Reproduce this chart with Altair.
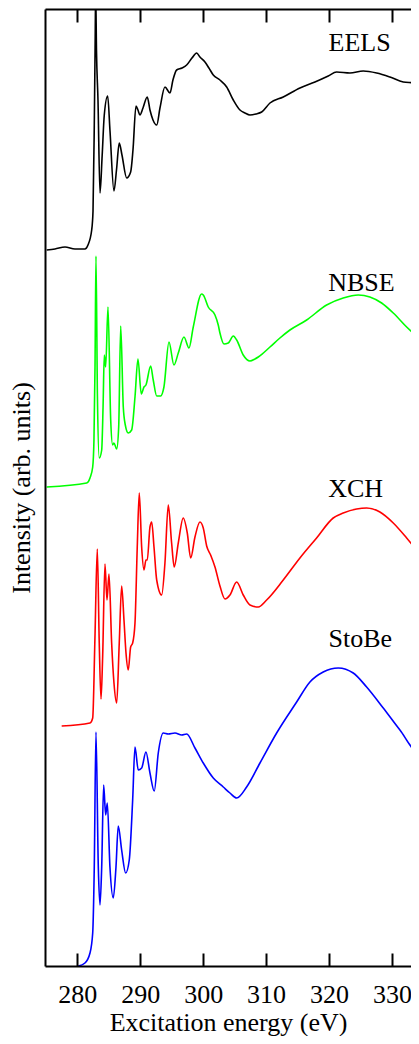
import altair as alt
import pandas as pd

# ---------------- data ----------------
series_names = ["EELS", "NBSE", "XCH", "StoBe"]
series_colors = ["#000000", "#00ff00", "#ff0000", "#0000ff"]

eels_e = [275.14, 276.46, 278.05, 279.63, 281.22, 281.70, 282.29, 282.50, 282.70, 282.85,
          282.92, 283.05, 283.29, 283.61, 283.95, 284.29, 284.83, 285.19, 285.83, 286.23,
          286.67, 287.10, 287.85, 288.48, 288.85, 289.33, 289.64, 289.96, 290.44, 291.12,
          291.55, 292.03, 292.62, 293.14, 293.93, 294.73, 295.20, 295.79, 296.63, 297.38,
          298.22, 298.97, 299.49, 300.29, 300.92, 301.61, 302.67, 303.74, 304.79, 305.85,
          306.64, 307.44, 308.39, 309.30, 310.62, 312.73, 315.38, 317.77, 319.88, 321.21,
          323.33, 325.44, 327.57, 329.68, 331.80, 333.65, 334.45]
eels_i = [7.16, 7.17, 7.19, 7.17, 7.17, 7.21, 7.36, 7.55, 8.40, 9.30,
          9.75, 9.16, 8.66, 7.73, 8.10, 8.51, 8.70, 8.36, 7.75, 7.96,
          8.23, 8.11, 7.88, 7.94, 8.16, 8.60, 8.56, 8.51, 8.58, 8.69,
          8.56, 8.46, 8.41, 8.58, 8.79, 8.73, 8.86, 8.96, 8.98, 9.01,
          9.08, 9.13, 9.09, 9.04, 8.98, 8.91, 8.86, 8.79, 8.66, 8.56,
          8.53, 8.51, 8.52, 8.54, 8.63, 8.69, 8.78, 8.84, 8.90, 8.94,
          8.93, 8.95, 8.93, 8.89, 8.84, 8.83, 8.81]

nbse_e = [275.14, 281.49, 282.02, 282.45, 282.65, 282.82, 282.97, 283.20, 283.49, 283.88,
          284.10, 284.29, 284.51, 284.88, 285.31, 285.62, 285.83, 286.26, 286.58, 286.90,
          287.31, 287.63, 288.10, 288.64, 289.17, 289.64, 290.17, 290.60, 290.91, 291.66,
          292.07, 292.62, 293.25, 293.77, 294.57, 295.36, 296.05, 296.95, 297.75, 298.43,
          299.76, 300.02, 300.81, 301.88, 302.40, 302.67, 303.31, 303.99, 304.79, 305.33,
          306.37, 307.44, 308.23, 308.76, 310.62, 312.20, 313.79, 316.45, 319.62, 322.26,
          324.65, 326.50, 328.36, 330.21, 332.34, 334.18, 334.77]
nbse_i = [4.79, 4.83, 4.88, 4.99, 5.26, 6.00, 7.10, 5.70, 5.08, 5.16,
          5.60, 6.11, 5.99, 6.59, 5.46, 5.21, 5.23, 5.17, 5.39, 6.40,
          5.59, 5.41, 5.33, 5.36, 5.69, 6.07, 5.72, 5.79, 5.81, 6.00,
          5.86, 5.70, 5.70, 5.79, 6.24, 6.01, 6.13, 6.29, 6.18, 6.39,
          6.72, 6.71, 6.59, 6.51, 6.41, 6.33, 6.22, 6.23, 6.30, 6.26,
          6.11, 6.05, 6.07, 6.09, 6.19, 6.28, 6.36, 6.46, 6.61, 6.68,
          6.71, 6.69, 6.63, 6.53, 6.39, 6.28, 6.24]

xch_e = [277.52, 282.02, 282.45, 282.81, 283.18, 283.49, 283.77, 284.03, 284.40, 284.72,
         285.04, 285.46, 285.83, 286.26, 286.67, 287.05, 287.42, 287.74, 288.10, 288.48,
         288.80, 289.17, 289.53, 289.85, 290.23, 290.60, 290.91, 291.12, 291.55, 291.82,
         292.19, 292.62, 293.41, 293.93, 294.46, 294.99, 295.41, 296.05, 296.84, 297.48,
         298.02, 298.70, 299.49, 300.02, 300.56, 301.19, 301.88, 302.67, 303.47, 304.26,
         305.33, 306.37, 307.44, 308.76, 310.09, 312.73, 315.38, 318.03, 320.67, 322.26,
         324.39, 325.98, 328.09, 330.21, 332.34, 334.18, 334.77]
xch_i = [2.40, 2.43, 2.48, 3.29, 4.17, 3.23, 2.67, 3.09, 4.02, 3.66,
         3.92, 3.23, 2.83, 2.63, 3.23, 3.80, 3.46, 3.13, 2.96, 3.19,
         3.23, 3.43, 4.19, 4.73, 4.19, 3.96, 4.06, 4.06, 4.39, 4.44,
         4.19, 3.86, 3.71, 4.03, 4.61, 4.23, 3.99, 4.23, 4.48, 4.33,
         4.08, 4.29, 4.44, 4.38, 4.20, 4.11, 3.99, 3.80, 3.67, 3.71,
         3.84, 3.71, 3.61, 3.59, 3.66, 3.86, 4.08, 4.28, 4.48, 4.53,
         4.57, 4.58, 4.54, 4.43, 4.28, 4.14, 4.10]

stobe_e = [280.16, 281.22, 282.02, 282.45, 282.70, 282.97, 283.34, 283.61, 283.88, 284.19,
           284.51, 284.77, 285.19, 285.72, 286.15, 286.51, 287.05, 287.69, 288.26, 288.80,
           289.17, 289.69, 290.23, 290.91, 291.55, 292.23, 292.87, 293.66, 294.46, 295.52,
           296.59, 297.38, 298.70, 300.02, 301.61, 303.20, 304.26, 305.33, 306.91, 309.03,
           311.68, 314.86, 316.97, 319.08, 321.47, 323.85, 325.98, 328.62, 331.27, 334.18,
           334.77]
stobe_i = [0.00, 0.03, 0.13, 0.33, 0.99, 2.34, 0.99, 0.61, 0.99, 1.81,
           1.51, 1.63, 0.99, 0.68, 0.99, 1.40, 1.16, 0.93, 1.06, 1.66,
           2.19, 1.96, 1.98, 2.14, 1.93, 1.75, 2.13, 2.33, 2.32, 2.33,
           2.31, 2.32, 2.18, 2.03, 1.88, 1.79, 1.73, 1.68, 1.79, 2.03,
           2.33, 2.64, 2.84, 2.94, 2.98, 2.93, 2.79, 2.58, 2.36, 2.14,
           2.14]

label_names = ["EELS", "NBSE", "XCH", "StoBe"]
label_energy = [319.93, 319.88, 319.88, 319.93]
label_intensity = [9.15, 6.75, 4.69, 3.19]

tick_values = [280, 290, 300, 310, 320, 330]

X_MIN, X_MAX = 274.87, 333.03
Y_MIN, Y_MAX = 0.0, 9.57

# ---------------- build tables ----------------
rows = []
for name, es, vs in [("EELS", eels_e, eels_i), ("NBSE", nbse_e, nbse_i),
                     ("XCH", xch_e, xch_i), ("StoBe", stobe_e, stobe_i)]:
    for k, (e, v) in enumerate(zip(es, vs)):
        rows.append({"series": name, "energy": float(e), "intensity": float(v), "idx": k})
df = pd.DataFrame(rows)
labels_df = pd.DataFrame({"name": label_names, "energy": label_energy, "intensity": label_intensity})

W, H = 366, 957
FONT = "Liberation Serif"
FS = 26
INWARD = alt.ExprRef(expr="-13")   # inward tick length

xscale = alt.Scale(domain=[X_MIN, X_MAX], nice=False, zero=False)
yscale = alt.Scale(domain=[Y_MIN, Y_MAX], nice=False, zero=False)

bottom_axis = alt.Axis(orient="bottom", values=tick_values, title="Excitation energy (eV)",
                       ticks=True, tickSize=INWARD, tickWidth=2, tickColor="black",
                       labelPadding=28, domainWidth=2, domainColor="black",
                       labelFontSize=FS, titleFontSize=FS, labelFont=FONT, titleFont=FONT,
                       titleFontWeight="normal", labelColor="black", titleColor="black",
                       titleBaseline="alphabetic", titleY=64, grid=False, format="d",
                       zindex=1)
top_axis = alt.Axis(orient="top", values=tick_values, title=None, labels=False,
                    ticks=True, tickSize=INWARD, tickWidth=2, tickColor="black",
                    domainWidth=2, domainColor="black", grid=False, zindex=1)
yaxis = alt.Axis(title="Intensity (arb. units)", labels=False, ticks=False, tickSize=0,
                 grid=False, domainWidth=2, domainColor="black", titlePadding=11,
                 titleFontSize=FS, titleFont=FONT, titleFontWeight="normal", titleColor="black",
                 zindex=1)

Y = alt.Y("intensity:Q", scale=yscale, axis=yaxis)

lines = alt.Chart(df).mark_line(interpolate="monotone", clip=True, strokeWidth=1.6).encode(
    x=alt.X("energy:Q", scale=xscale, axis=bottom_axis),
    y=Y,
    color=alt.Color("series:N", scale=alt.Scale(domain=series_names, range=series_colors), legend=None),
    order="idx:Q",
)

texts = alt.Chart(labels_df).mark_text(align="left", baseline="alphabetic", font=FONT,
                                       fontSize=FS, color="black").encode(
    x=alt.X("energy:Q", scale=xscale, axis=top_axis),
    y=Y,
    text="name:N",
)

chart = alt.layer(lines, texts).resolve_axis(x="independent").properties(
    width=W, height=H,
    padding={"left": 37, "top": 1, "right": 0, "bottom": 70},
    autosize=alt.AutoSizeParams(type="none"),
    background="white",
).configure_view(stroke=None)

chart.save("out.html", embed_options={"renderer": "svg", "actions": False})
